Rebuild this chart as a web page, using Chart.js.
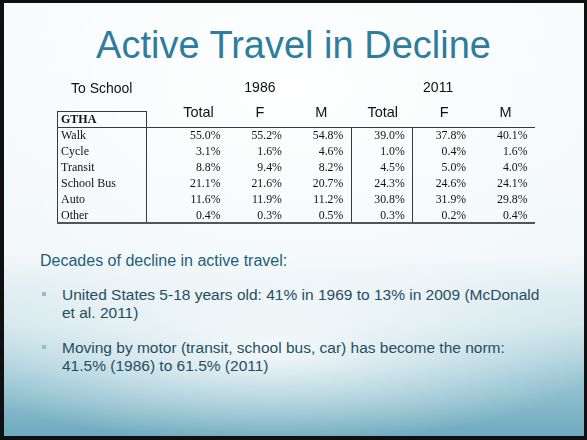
<!DOCTYPE html>
<html>
<head>
<meta charset="utf-8">
<script src="https://cdn.jsdelivr.net/npm/chart.js@4/dist/chart.umd.min.js"></script>
<style>
  html, body { margin:0; padding:0; width:587px; height:440px; overflow:hidden; background:#fff; }
  #slide {
    position:absolute; left:0; top:0; width:587px; height:440px; box-sizing:border-box;
    border:3px solid #101010; border-left-width:4px; border-bottom-width:4px;
    background:
      radial-gradient(ellipse 58% 22% at 46% 80%, rgba(255,255,255,0.85), rgba(255,255,255,0) 100%),
      radial-gradient(ellipse 70% 60% at 50% 20%, rgba(255,255,255,0.9), rgba(255,255,255,0) 100%),
      linear-gradient(to bottom, #f6fafb 0%, #f1f7f9 58%, #d2e6ec 74%, #98c5d3 87%, #6eaabe 100%);
    font-family: Arial, "Liberation Sans", sans-serif;
  }
  #title {
    position:absolute; left:0; top:19px; width:579px; text-align:center;
    font-size:38px; line-height:46px; color:#2f7d9c; white-space:nowrap;
  }
  #sub {
    position:absolute; left:36px; top:248px; font-size:16px; line-height:20px; color:#1f5f7a; white-space:nowrap;
  }
  .bul {
    position:absolute; left:58px; font-size:15.5px; line-height:18px; color:#274d62; white-space:nowrap;
  }
  .sq { position:absolute; left:38px; width:4px; height:4px; background:#8cc0d4; }
  #c { position:absolute; left:0; top:0; }
</style>
</head>
<body>
<div id="slide">
  <div id="title">Active Travel in Decline</div>
  <div id="sub">Decades of decline in active travel:</div>
  <div class="sq" style="top:289px"></div>
  <div class="bul" style="top:283px">United States 5-18 years old: 41% in 1969 to 13% in 2009 (McDonald<br>et al. 2011)</div>
  <div class="sq" style="top:342px"></div>
  <div class="bul" style="top:336px">Moving by motor (transit, school bus, car) has become the norm:<br>41.5% (1986) to 61.5% (2011)</div>
</div>
<canvas id="c" width="587" height="440"></canvas>
<script>
// ---- data ----
const tableCaption = 'To School';
const groupLabel = 'GTHA';
const modes = ['Walk', 'Cycle', 'Transit', 'School Bus', 'Auto', 'Other'];
const years = ['1986', '2011'];
const columnLabels = ['Total', 'F', 'M', 'Total', 'F', 'M'];
const total1986  = [55.0, 3.1, 8.8, 21.1, 11.6, 0.4];
const female1986 = [55.2, 1.6, 9.4, 21.6, 11.9, 0.3];
const male1986   = [54.8, 4.6, 8.2, 20.7, 11.2, 0.5];
const total2011  = [39.0, 1.0, 4.5, 24.3, 30.8, 0.3];
const female2011 = [37.8, 0.4, 5.0, 24.6, 31.9, 0.2];
const male2011   = [40.1, 1.6, 4.0, 24.1, 29.8, 0.4];

const columns = [total1986, female1986, male1986, total2011, female2011, male2011];
const rowLabels = [groupLabel].concat(modes);

const datasets = columns.map((vals, ci) => ({
  label: (ci < 3 ? years[0] : years[1]) + ' ' + columnLabels[ci],
  data: modes.map((m, ri) => ({ x: ci, y: m, v: vals[ri] })),
  pointRadius: 0,
  showLine: false
}));

const serif = '"Liberation Serif", "Times New Roman", serif';
const sans = 'Arial, "Liberation Sans", sans-serif';

const tablePlugin = {
  id: 'tablePlugin',
  afterDatasetsDraw(chart) {
    const { ctx, chartArea: a, scales: { x, y } } = chart;
    ctx.save();
    const headerLineY = Math.round((y.getPixelForValue(0) + y.getPixelForValue(1)) / 2);
    const labelRight = Math.round(x.getPixelForValue(-1.21));
    const sep1 = Math.round(x.getPixelForValue(2.12));
    const sep2 = Math.round(x.getPixelForValue(3.12));
    const L = Math.round(a.left), T = Math.round(a.top), B = Math.round(a.bottom), R = Math.round(a.right);

    // borders
    ctx.strokeStyle = '#3a3a3a';
    ctx.lineWidth = 1;
    const line = (x1, y1, x2, y2) => { ctx.beginPath(); ctx.moveTo(x1, y1); ctx.lineTo(x2, y2); ctx.stroke(); };
    line(L, T + 0.5, labelRight, T + 0.5);
    line(L + 0.5, T, L + 0.5, B);
    line(labelRight + 0.5, T, labelRight + 0.5, B);
    line(L, headerLineY + 0.5, R, headerLineY + 0.5);
    line(sep1 + 0.5, headerLineY, sep1 + 0.5, B);
    line(sep2 + 0.5, headerLineY, sep2 + 0.5, B);
    ctx.strokeStyle = '#555';
    ctx.lineWidth = 2;
    line(L, B, R, B);

    // row labels
    ctx.fillStyle = '#111';
    ctx.textBaseline = 'middle';
    ctx.textAlign = 'left';
    rowLabels.forEach((lab, i) => {
      ctx.font = (i === 0 ? 'bold ' : '') + '12px ' + serif;
      ctx.fillText(lab, L + 4, y.getPixelForValue(i) + 0.5);
    });

    // cell values
    ctx.textAlign = 'right';
    ctx.font = '11.8px ' + serif;
    chart.data.datasets.forEach((ds, di) => {
      const meta = chart.getDatasetMeta(di);
      meta.data.forEach((el, j) => {
        ctx.fillText(ds.data[j].v.toFixed(1) + '%', el.x, el.y + 0.5);
      });
    });

    // column headers
    ctx.textAlign = 'center';
    ctx.fillStyle = '#111';
    ctx.font = '14.5px ' + sans;
    const headY = y.getPixelForValue(0) - 6;
    columnLabels.forEach((lab, ci) => {
      ctx.fillText(lab, x.getPixelForValue(ci) - 22, headY);
    });
    // years
    ctx.font = '14px ' + sans;
    const yearY = a.top - 23;
    ctx.fillText(years[0], x.getPixelForValue(1) - 22, yearY);
    ctx.fillText(years[1], x.getPixelForValue(4) - 28, yearY);
    // caption
    ctx.textAlign = 'left';
    ctx.font = '14px ' + sans;
    ctx.fillText(tableCaption, L + 14, yearY + 1);
    ctx.restore();
  }
};

new Chart(document.getElementById('c'), {
  type: 'scatter',
  data: { datasets },
  options: {
    responsive: false,
    animation: false,
    devicePixelRatio: 1,
    layout: { padding: { left: 57, right: 52, top: 111, bottom: 217 } },
    plugins: { legend: { display: false }, title: { display: false }, tooltip: { enabled: false } },
    scales: {
      x: { type: 'linear', min: -2.663, max: 5.122, display: false },
      y: { type: 'category', labels: rowLabels, offset: true, display: false }
    }
  },
  plugins: [tablePlugin]
});
</script>
</body>
</html>
